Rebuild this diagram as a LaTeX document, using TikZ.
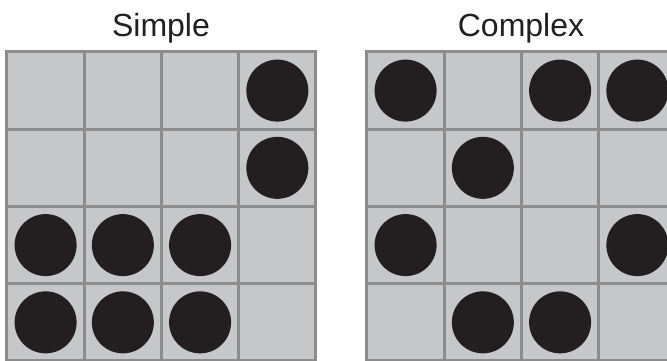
\documentclass[tikz,border=0pt]{standalone}
\usepackage{fontspec}
\setmainfont{Liberation Sans}
\usetikzlibrary{positioning}
\definecolor{cellfill}{RGB}{198,199,201}
\definecolor{gridline}{RGB}{140,140,140}
\definecolor{dotfill}{RGB}{35,31,32}

\begin{document}
\begin{tikzpicture}[
    x=1pt, y=1pt,
    % Styles
    cell/.style={rectangle, draw=gridline, fill=cellfill, line width=3pt, minimum size=77.25pt, inner sep=0pt},
    dot/.style={fill=dotfill},
    title/.style={font=\fontsize{32}{38}\selectfont, text=dotfill, anchor=base},
]
\useasboundingbox (0,0) rectangle (667,360);
\clip (0,0) rectangle (667,360);

% === SIMPLE GRID (Left) ===
\foreach \r in {1,...,4}
  \foreach \c in {1,...,4}
    \node[cell] (s-\r-\c) at ({45.6+77.25*(\c-1)}, {269.4-77.25*(\r-1)}) {};
\foreach \r/\c in {1/4, 2/4, 3/1, 3/2, 3/3, 4/1, 4/2, 4/3}
  \fill[dot] (s-\r-\c) circle (31pt);
\node[title] (simple) at (161,323.3) {Simple};

% === COMPLEX GRID (Right) ===
\foreach \r in {1,...,4}
  \foreach \c in {1,...,4}
    \node[cell] (k-\r-\c) at ({405.6+77.25*(\c-1)}, {269.4-77.25*(\r-1)}) {};
\foreach \r/\c in {1/1, 1/3, 1/4, 2/2, 3/1, 3/4, 4/2, 4/3}
  \fill[dot] (k-\r-\c) circle (31pt);
\node[title] (complex) at (521,323.3) {Complex};

\end{tikzpicture}
\end{document}
